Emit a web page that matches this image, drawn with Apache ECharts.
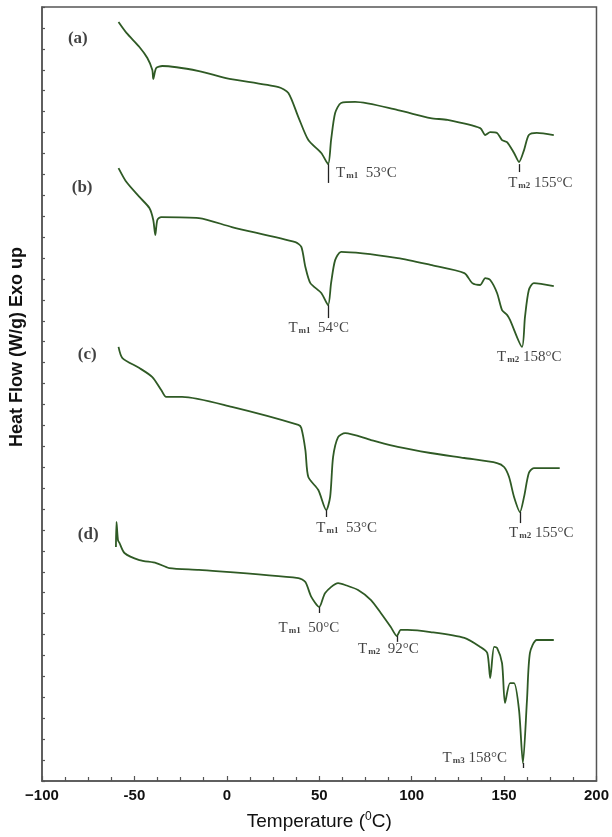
<!DOCTYPE html>
<html><head><meta charset="utf-8">
<script src="https://cdn.jsdelivr.net/npm/echarts@6/dist/echarts.min.js"></script>
<style>html,body{margin:0;padding:0;background:#fff}#c{width:612px;height:837px}</style>
</head><body><div id="c"></div>
<script>
// Temperature (°C) and heat flow (arbitrary stacked units)
const tempA = [-58.6,-54.3,-47.3,-43.0,-40.3,-39.8,-38.2,-34.9,-15.1,-0.5,28.0,33.3,38.7,44.1,51.1,54.8,56.4,58.6,61.8,69.4,92.5,110.2,119.4,137.1,139.8,142.5,146.2,148.9,151.6,155.4,158.1,160.8,163.4,167.7,176.9];
const flowA = [36.28,35.76,35.09,34.56,33.99,33.56,34.08,34.18,33.94,33.60,33.17,32.89,31.74,30.64,30.02,29.49,30.64,31.93,32.41,32.46,32.07,31.69,31.60,31.21,30.88,31.02,30.98,30.64,30.54,30.02,29.59,30.16,30.88,30.98,30.88];
const tempB = [-58.6,-54.3,-47.3,-41.9,-39.8,-38.7,-37.6,-35.5,-15.1,2.7,37.1,40.3,42.5,45.2,51.1,54.8,56.4,58.6,61.8,92.5,110.2,128.5,132.8,137.1,139.8,142.5,146.2,148.9,151.6,153.2,159.7,161.3,163.4,166.1,176.9];
const flowB = [29.30,28.63,27.92,27.39,26.82,26.10,26.82,26.96,26.91,26.48,25.76,25.53,24.57,23.80,23.33,22.75,23.80,24.90,25.29,25.00,24.67,24.28,23.80,23.71,24.04,23.95,23.33,22.51,22.28,22.04,20.75,22.18,23.47,23.80,23.66];
const tempC = [-58.6,-56.5,-47.3,-40.3,-35.5,-32.8,-24.2,2.7,38.7,40.3,42.5,44.1,49.5,53.8,55.9,57.5,60.2,64.0,78.0,92.5,110.2,128.5,146.2,150.0,152.7,155.4,158.6,160.8,163.4,166.1,180.1];
const flowC = [20.75,20.22,19.74,19.31,18.69,18.36,18.36,17.88,17.02,16.87,15.82,14.53,13.91,12.95,13.58,15.49,16.44,16.63,16.30,15.97,15.68,15.44,15.20,15.01,14.53,13.58,12.86,13.58,14.72,14.96,14.96];
const tempD = [-60.0,-59.7,-58.9,-58.1,-55.4,-47.3,-38.2,-31.2,-15.1,38.7,42.5,45.7,50.0,53.2,60.2,64.0,71.0,78.0,83.3,88.7,92.0,94.1,97.8,110.2,128.5,137.1,140.9,142.5,144.6,146.2,148.9,150.5,153.2,155.4,158.1,160.2,162.4,164.0,167.7,176.9];
const flowD = [11.19,12.38,11.52,11.38,10.90,10.56,10.42,10.18,10.09,9.70,9.51,8.80,8.32,8.99,9.46,9.37,9.13,8.65,8.03,7.36,6.93,7.22,7.22,7.12,6.84,6.41,6.12,4.92,6.41,6.36,5.64,3.73,4.68,4.68,3.39,0.86,3.87,6.12,6.74,6.74];

const xTicks = [-100,-50,0,50,100,150,200];
const xTickText = ['\u2212100','-50','0','50','100','150','200'];

// peak markers: [temperature, top, bottom]
const peakMarks = [[54.8,29.49,28.59],[158.1,29.49,29.11],[54.8,22.75,22.13],[53.8,12.95,12.62],[158.6,12.86,12.33],[50.0,8.32,8.03],[92.0,6.93,6.65],[160.2,0.86,0.62]];
// peak labels: [temperature, flow, index, value]
const peakLabels = [[59.1,29.06,'m1','  53\u00b0C'],[152.2,28.59,'m2',' 155\u00b0C'],[33.3,21.65,'m1','  54\u00b0C'],[146.2,20.27,'m2',' 158\u00b0C'],[48.4,12.09,'m1','  53\u00b0C'],[152.7,11.85,'m2',' 155\u00b0C'],[28.0,7.31,'m1','  50\u00b0C'],[71.0,6.31,'m2','  92\u00b0C'],[116.7,1.10,'m3',' 158\u00b0C']];
const panelLabels = [[-86.0,35.5,'(a)'],[-83.9,28.35,'(b)'],[-80.6,20.36,'(c)'],[-80.6,11.76,'(d)']];

const zip = (t, f) => t.map((v, i) => [v, f[i]]);
const green = '#2f5a25';
const curves = [zip(tempA, flowA), zip(tempB, flowB), zip(tempC, flowC), zip(tempD, flowD)];

const series = curves.map(d => ({
  type: 'line', data: d, showSymbol: false, smooth: 0.25, silent: true,
  lineStyle: { color: green, width: 1.8 }
}));
series.push({
  type: 'line', silent: true, data: [],
  markLine: {
    silent: true, symbol: 'none', label: { show: false },
    lineStyle: { color: '#222', width: 1.3, type: 'solid' },
    data: peakMarks.map(p => [{ coord: [p[0], p[1]] }, { coord: [p[0], p[2]] }])
  }
});
series.push({
  type: 'scatter', symbolSize: 0, silent: true,
  data: peakLabels.map(p => ({
    value: [p[0], p[1]],
    label: {
      show: true, position: 'right', distance: 0,
      formatter: '{t|T}{s|' + p[2] + '}{t|' + p[3] + '}',
      rich: {
        t: { fontFamily: 'Liberation Serif', fontSize: 15, color: '#111' },
        s: { fontFamily: 'Liberation Serif', fontSize: 9, fontWeight: 'bold', color: '#111', padding: [6, 0, 0, 1] }
      }
    }
  }))
});
series.push({
  type: 'scatter', symbolSize: 0, silent: true,
  data: panelLabels.map(p => ({
    value: [p[0], p[1]],
    label: { show: true, position: 'right', distance: 0, formatter: p[2],
      fontFamily: 'Liberation Serif', fontSize: 17, fontWeight: 'bold', color: '#111' }
  }))
});

const chart = echarts.init(document.getElementById('c'), null, { renderer: 'canvas' });
chart.setOption({
  animation: false,
  backgroundColor: '#fff',
  grid: { left: 42, right: 12, top: 7, bottom: 56, show: true, borderColor: '#555', borderWidth: 1.5, backgroundColor: 'transparent' },
  xAxis: {
    type: 'value', min: -100, max: 200, interval: 50,
    name: 'Temperature ({sup|0}C)', nameLocation: 'middle', nameGap: 30,
    nameTextStyle: { fontFamily: 'Liberation Sans', fontSize: 19, color: '#111',
      rich: { sup: { fontFamily: 'Liberation Sans', fontSize: 12, color: '#111', padding: [0, 0, 9, 0] } } },
    axisLine: { show: true, onZero: false, lineStyle: { color: '#555', width: 1.5 } },
    axisTick: { show: true, inside: true, length: 5, lineStyle: { color: '#555', width: 1.2 } },
    minorTick: { show: true, splitNumber: 4, length: 4, lineStyle: { color: '#555', width: 1.2 } },
    splitLine: { show: false },
    axisLabel: { margin: 7, fontFamily: 'Liberation Sans', fontSize: 15, fontWeight: 'bold', color: '#111',
      formatter: v => { const i = xTicks.indexOf(v); return i >= 0 ? xTickText[i] : ''; } }
  },
  yAxis: {
    type: 'value', min: 0, max: 37, interval: 1,
    name: 'Heat Flow (W/g) Exo up', nameLocation: 'middle', nameGap: 16,
    nameTextStyle: { fontFamily: 'Liberation Sans', fontSize: 18, fontWeight: 'bold', color: '#111', padding: [0, 0, 0, 94] },
    axisLine: { show: true, onZero: false, lineStyle: { color: '#555', width: 1.5 } },
    axisTick: { show: true, inside: true, length: 3, lineStyle: { color: '#555', width: 1.2 } },
    splitLine: { show: false },
    axisLabel: { show: false }
  },
  series: series
});
</script></body></html>
